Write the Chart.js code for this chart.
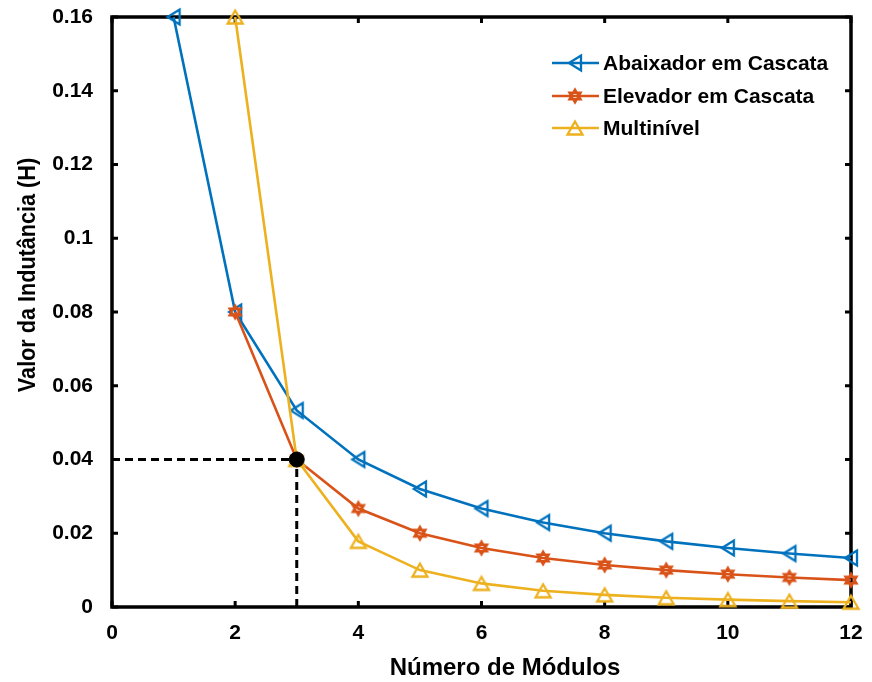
<!DOCTYPE html>
<html>
<head>
<meta charset="utf-8">
<script src="https://cdn.jsdelivr.net/npm/chart.js@4.4.1/dist/chart.umd.min.js"></script>
<style>
  html, body { margin: 0; padding: 0; background: #ffffff; }
  #wrap { width: 872px; height: 682px; }
</style>
</head>
<body>
<div id="wrap"><canvas id="inductanceChart" width="872" height="682"></canvas></div>
<script>
// Number of modules for each curve
const modulesAbaixador = [1, 2, 3, 4, 5, 6, 7, 8, 9, 10, 11, 12];
const modulesElevador = [2, 3, 4, 5, 6, 7, 8, 9, 10, 11, 12];
const modulesMultinivel = [2, 3, 4, 5, 6, 7, 8, 9, 10, 11, 12];

// Inductance values (H)
const abaixador = [0.16, 0.08, 0.0533, 0.04, 0.032, 0.0267, 0.0229, 0.02, 0.0178, 0.016, 0.0145, 0.0133];
const elevador = [0.08, 0.04, 0.0267, 0.02, 0.016, 0.0133, 0.0114, 0.01, 0.0089, 0.008, 0.0073];
const multinivel = [0.16, 0.04, 0.0178, 0.01, 0.0064, 0.0044, 0.0033, 0.0025, 0.002, 0.0016, 0.0013];

// Highlighted design point and its guide lines
const refModules = [3];
const refInductance = [0.04];
const guideHorizX = [0, 3];
const guideHorizY = [0.04, 0.04];
const guideVertX = [3, 3];
const guideVertY = [0, 0.04];

// Axis ticks
const xTicks = [0, 2, 4, 6, 8, 10, 12];
const yTicks = [0, 0.02, 0.04, 0.06, 0.08, 0.1, 0.12, 0.14, 0.16];

const seriesLabels = ['Abaixador em Cascata', 'Elevador em Cascata', 'Multinível'];
const colors = ['#0072BD', '#D95319', '#EDB120'];
const FONT = "'Liberation Sans', Arial, sans-serif";

function toPoints(xs, ys) {
    return xs.map(function(x, i) { return { x: x, y: ys[i] }; });
}

// open MATLAB-like markers drawn on small canvases
function makeMarker(shape, color) {
    const c = document.createElement('canvas');
    c.width = 22;
    c.height = 22;
    const g = c.getContext('2d');
    const cx = 11, cy = 11;
    g.strokeStyle = color;
    g.lineWidth = 2.3;
    g.lineJoin = 'miter';
    g.beginPath();
    if (shape === 'left') {
        g.moveTo(cx - 6, cy);
        g.lineTo(cx + 6, cy - 7.5);
        g.lineTo(cx + 6, cy + 7.5);
        g.closePath();
    } else if (shape === 'up') {
        g.moveTo(cx, cy - 6.5);
        g.lineTo(cx + 7.5, cy + 6.5);
        g.lineTo(cx - 7.5, cy + 6.5);
        g.closePath();
    } else {
        // hexagram
        const r = 6.5;
        for (let k = 0; k < 2; k++) {
            const off = k === 0 ? -Math.PI / 2 : Math.PI / 2;
            for (let j = 0; j < 3; j++) {
                const a = off + j * 2 * Math.PI / 3;
                const px = cx + r * Math.cos(a), py = cy + r * Math.sin(a);
                if (j === 0) g.moveTo(px, py); else g.lineTo(px, py);
            }
            g.closePath();
        }
    }
    g.stroke();
    return c;
}

const markers = [makeMarker('left', colors[0]), makeMarker('hex', colors[1]), makeMarker('up', colors[2])];

// frame with inward ticks on all four sides
const framePlugin = {
    id: 'frame',
    beforeDatasetsDraw: function(chart) {
        const ctx = chart.ctx;
        const a = chart.chartArea;
        const xs = chart.scales.x, ys = chart.scales.y;
        const tl = 6;
        ctx.save();
        ctx.strokeStyle = '#000000';
        ctx.lineWidth = 3;
        ctx.beginPath();
        xTicks.forEach(function(v) {
            const px = xs.getPixelForValue(v);
            ctx.moveTo(px, a.bottom);
            ctx.lineTo(px, a.bottom - tl);
            ctx.moveTo(px, a.top);
            ctx.lineTo(px, a.top + tl);
        });
        yTicks.forEach(function(v) {
            const py = ys.getPixelForValue(v);
            ctx.moveTo(a.left, py);
            ctx.lineTo(a.left + tl, py);
            ctx.moveTo(a.right, py);
            ctx.lineTo(a.right - tl, py);
        });
        ctx.stroke();
        ctx.lineWidth = 3.5;
        ctx.strokeRect(a.left, a.top, a.right - a.left, a.bottom - a.top);
        ctx.restore();
    }
};

// axis titles and legend
const textPlugin = {
    id: 'texts',
    afterDraw: function(chart) {
        const ctx = chart.ctx;
        ctx.save();
        ctx.fillStyle = '#000000';

        // x title
        ctx.font = 'bold 24px ' + FONT;
        ctx.textAlign = 'center';
        ctx.textBaseline = 'alphabetic';
        ctx.fillText('Número de Módulos', 505, 675);

        // y title
        ctx.save();
        ctx.translate(35, 275);
        ctx.rotate(-Math.PI / 2);
        ctx.scale(0.94, 1);
        ctx.font = 'bold 23px ' + FONT;
        ctx.textAlign = 'center';
        ctx.fillText('Valor da Indutância (H)', 0, 0);
        ctx.restore();

        // legend
        const rows = [63, 96, 128];
        seriesLabels.forEach(function(label, i) {
            const y = rows[i];
            ctx.strokeStyle = colors[i];
            ctx.lineWidth = 2.5;
            ctx.beginPath();
            ctx.moveTo(552, y);
            ctx.lineTo(599, y);
            ctx.stroke();
            ctx.drawImage(markers[i], 575 - 11, y - 11);
            ctx.fillStyle = '#000000';
            ctx.font = 'bold 21px ' + FONT;
            ctx.textAlign = 'left';
            ctx.textBaseline = 'middle';
            ctx.fillText(label, 603, y + 1);
        });
        ctx.restore();
    }
};

const ctx = document.getElementById('inductanceChart').getContext('2d');
new Chart(ctx, {
    type: 'line',
    data: {
        datasets: [
            {
                label: 'Ponto',
                data: toPoints(refModules, refInductance),
                showLine: false,
                pointRadius: 7.5,
                pointBackgroundColor: '#000000',
                pointBorderColor: '#000000',
                order: 0
            },
            {
                label: seriesLabels[0],
                data: toPoints(modulesAbaixador, abaixador),
                borderColor: colors[0],
                borderWidth: 2.6,
                pointStyle: markers[0],
                clip: false,
                order: 3
            },
            {
                label: seriesLabels[1],
                data: toPoints(modulesElevador, elevador),
                borderColor: colors[1],
                borderWidth: 2.6,
                pointStyle: markers[1],
                clip: false,
                order: 2
            },
            {
                label: seriesLabels[2],
                data: toPoints(modulesMultinivel, multinivel),
                borderColor: colors[2],
                borderWidth: 2.6,
                pointStyle: markers[2],
                clip: false,
                order: 1
            },
            {
                label: 'guia h',
                data: toPoints(guideHorizX, guideHorizY),
                borderColor: '#000000',
                borderWidth: 3,
                borderDash: [8, 5],
                pointRadius: 0,
                order: 4
            },
            {
                label: 'guia v',
                data: toPoints(guideVertX, guideVertY),
                borderColor: '#000000',
                borderWidth: 3,
                borderDash: [8, 5],
                pointRadius: 0,
                order: 4
            }
        ]
    },
    options: {
        responsive: false,
        animation: false,
        events: [],
        layout: {
            padding: { left: 0, top: 17, right: 21, bottom: 0 }
        },
        scales: {
            x: {
                type: 'linear',
                min: 0,
                max: 12,
                grid: { display: false, drawTicks: false },
                border: { display: false },
                afterFit: function(scale) {
                    scale.height = 75;
                    scale.paddingLeft = 0;
                    scale.paddingRight = 0;
                },
                afterBuildTicks: function(scale) {
                    scale.ticks = xTicks.map(function(v) { return { value: v }; });
                },
                ticks: {
                    padding: 14,
                    color: '#000000',
                    font: { family: FONT, size: 21, weight: 'bold' }
                }
            },
            y: {
                min: 0,
                max: 0.16,
                grid: { display: false, drawTicks: false },
                border: { display: false },
                afterFit: function(scale) {
                    scale.width = 112;
                    scale.paddingTop = 0;
                    scale.paddingBottom = 0;
                },
                afterBuildTicks: function(scale) {
                    scale.ticks = yTicks.map(function(v) { return { value: v }; });
                },
                ticks: {
                    padding: 19,
                    color: '#000000',
                    font: { family: FONT, size: 21, weight: 'bold' },
                    callback: function(value) {
                        return String(Number(value.toFixed(2)));
                    }
                }
            }
        },
        plugins: {
            legend: { display: false },
            tooltip: { enabled: false }
        }
    },
    plugins: [framePlugin, textPlugin]
});
</script>
</body>
</html>
